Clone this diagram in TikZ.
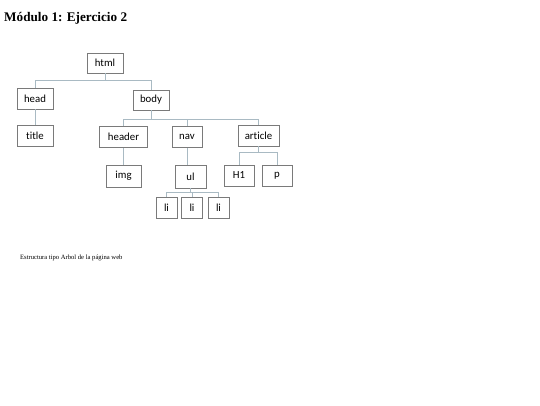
\documentclass[tikz,border=0pt]{standalone}
\usepackage{fontspec}
\usepackage{xcolor}
\setmainfont{Liberation Serif}
\newfontfamily\boxfont[Ligatures=NoCommon]{Carlito}
\definecolor{boxline}{HTML}{7A7A7A}
\definecolor{treeline}{HTML}{A9BAC3}

\begin{document}
\begin{tikzpicture}[x=1pt,y=1pt,yscale=-1,xscale=1,
  tag/.style={draw=boxline,line width=0.8pt,fill=white,inner sep=0pt,minimum height=21pt,font=\boxfont\fontsize{10.8}{12}\selectfont},
  link/.style={draw=treeline,line width=0.8pt}]

\useasboundingbox (0,0) rectangle (540,405);

\draw (4,21) node [anchor=base west][inner sep=0pt] [font=\fontsize{13.2}{16}\selectfont\bfseries] {Módulo 1: Ejercicio 2};

% nodes
\node [tag,minimum width=36pt,minimum height=20pt] (html) at (105,63) {html};
\node [tag,minimum width=36pt] (head) at (35,98.5) {head};
\node [tag,minimum width=36pt,minimum height=20pt] (body) at (151,100) {body};
\node [tag,minimum width=36pt] (title) at (35,135.5) {title};
\node [tag,minimum width=48pt] (header) at (123.5,137) {header};
\node [tag,minimum width=30pt] (nav) at (187,137) {nav};
\node [tag,minimum width=41pt] (article) at (258.5,135.5) {article};
\node [tag,minimum width=35pt,minimum height=22pt] (img) at (123.5,176) {img};
\node [tag,minimum width=31pt,minimum height=23pt] (ul) at (190.5,176.5) {ul};
\node [tag,minimum width=30pt] (h1) at (239,175.5) {H1};
\node [tag,minimum width=30pt] (p) at (277,175.5) {p};
\node [tag,minimum width=21pt] (li1) at (166.5,207.5) {li};
\node [tag,minimum width=21pt] (li2) at (192,207.5) {li};
\node [tag,minimum width=21pt] (li3) at (218.5,207.5) {li};

% connectors
\draw [link] (html.south) -- ++(0,7) coordinate (jhtml);
\draw [link] (jhtml) -| (head.north);
\draw [link] (jhtml) -| (body.north);
\draw [link] (head.south) -- (title.north);
\draw [link] (body.south) -- ++(0,9) coordinate (jbody);
\draw [link] (jbody) -| (header.north);
\draw [link] (jbody) -| (nav.north);
\draw [link] (jbody) -| (article.north);
\draw [link] (header.south) -- (img.north);
\draw [link] (nav.south) -- (nav.south |- ul.north);
\draw [link] (article.south) -- ++(0,6) coordinate (jart);
\draw [link] (jart) -| (h1.north);
\draw [link] (jart) -| (p.north);
\draw [link] (ul.south) -- ++(0,4) coordinate (jul);
\draw [link] (jul) -| (li1.north);
\draw [link] (jul) -| (li2.north);
\draw [link] (jul) -| (li3.north);

\draw (20,259) node [anchor=base west][inner sep=0pt] [font=\fontsize{6.6}{8}\selectfont] {Estructura tipo Arbol de la página web};

\end{tikzpicture}
\end{document}
